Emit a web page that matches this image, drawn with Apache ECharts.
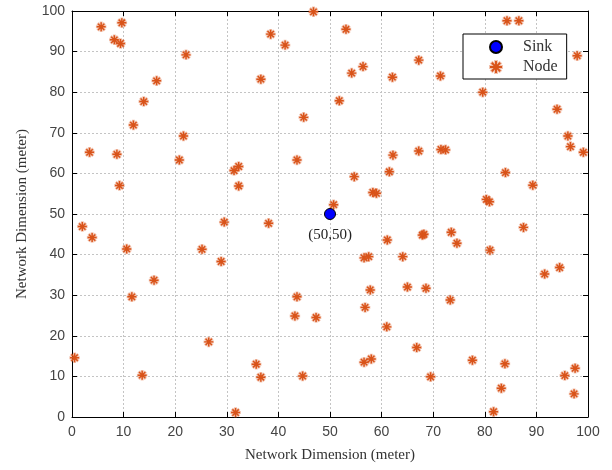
<!DOCTYPE html>
<html>
<head>
<meta charset="utf-8">
<script src="https://cdn.jsdelivr.net/npm/echarts@6/dist/echarts.min.js"></script>
<style>
html, body { margin: 0; padding: 0; background: #fff; }
#main { width: 612px; height: 470px; }
</style>
</head>
<body>
<div id="main"></div>
<script>
var sinkX = [50];
var sinkY = [50];
var nodeX = [5.65, 9.66, 8.2, 9.4, 22.1, 16.4, 13.9, 11.9, 21.6, 3.4, 8.7, 20.8, 9.2, 31.4, 32.3, 32.3, 36.6, 38.5, 41.3, 44.9, 43.6, 46.8,
    53.1, 54.2, 56.4, 51.8, 62.1, 67.2, 71.4, 84.3, 86.6, 97.9, 79.6, 94.0, 96.1, 96.6, 99.1, 62.2, 67.2, 71.5, 72.4, 61.5, 54.7, 58.3, 59.0, 84.0, 89.3, 80.3, 80.9, 50.7,
    2.0, 3.9, 10.6, 29.5, 38.1, 25.2, 28.9, 15.9, 11.6, 43.6, 43.2, 47.3, 26.5, 0.5, 35.7, 36.6, 13.6, 44.7, 31.7,
    61.1, 67.9, 68.2, 73.5, 74.6, 87.5, 81.0, 56.6, 57.5, 64.1, 57.8, 65.0, 68.6, 73.3, 91.6, 94.5, 56.8, 61.0, 66.8, 56.6, 58.0, 69.5, 77.6, 83.9, 83.2, 81.7, 95.5, 97.5, 97.3];
var nodeY = [96.1, 97.1, 92.9, 92.0, 89.2, 82.8, 77.7, 71.9, 69.2, 65.2, 64.7, 63.3, 57.0, 60.7, 61.7, 56.9, 83.2, 94.3, 91.6, 73.8, 63.3, 99.8,
    95.5, 84.7, 86.3, 77.9, 83.7, 87.9, 84.0, 97.6, 97.6, 89.0, 80.0, 75.8, 69.2, 66.6, 65.2, 64.5, 65.5, 65.9, 65.8, 60.4, 59.2, 55.3, 55.1, 60.2, 57.1, 53.6, 53.0, 52.3,
    46.9, 44.2, 41.4, 48.0, 47.7, 41.3, 38.3, 33.7, 29.6, 29.6, 24.9, 24.5, 18.5, 14.6, 13.0, 9.8, 10.3, 10.1, 1.1,
    43.6, 44.8, 45.0, 45.5, 42.8, 46.7, 41.1, 39.2, 39.5, 39.5, 31.3, 32.0, 31.7, 28.8, 35.2, 36.8, 27.0, 22.2, 17.1, 13.5, 14.3, 9.9, 14.0, 13.1, 7.1, 1.3, 10.2, 12.0, 5.7];
var ticks = [0, 10, 20, 30, 40, 50, 60, 70, 80, 90, 100];

// asterisk marker: four thin bars crossing
var star = 'path://M0 4.2L10 4.2L10 5.8L0 5.8Z M4.2 0L5.8 0L5.8 10L4.2 10Z ' +
    'M2.07 0.93L9.07 7.93L7.93 9.07L0.93 2.07Z M7.93 0.93L9.07 2.07L2.07 9.07L0.93 7.93Z';

var nodeData = nodeX.map(function (x, i) { return [x, nodeY[i]]; });
var sinkData = sinkX.map(function (x, i) { return [x, sinkY[i]]; });

var chart = echarts.init(document.getElementById('main'));
var gridLine = { show: true, lineStyle: { color: '#c4c4c4', type: [2, 2], width: 1 } };
var frameLine = { show: true, onZero: false, lineStyle: { color: '#000', width: 1 } };
var tickIn = { show: true, inside: true, length: 5, lineStyle: { color: '#000' } };

var option = {
    animation: false,
    backgroundColor: '#fff',
    grid: { left: 72, right: 24, top: 11, bottom: 53 },
    legend: {
        orient: 'vertical',
        left: 463,
        top: 34,
        backgroundColor: '#fff',
        borderColor: '#000',
        borderWidth: 1,
        borderRadius: 0,
        padding: [5, 9, 4, 26],
        itemGap: 4,
        itemWidth: 12,
        itemHeight: 12,
        textStyle: { fontFamily: 'Liberation Serif', fontSize: 16, color: '#333', padding: [0, 0, 0, 16] },
        data: ['Sink', 'Node']
    },
    xAxis: [{
        type: 'value', min: 0, max: 100, interval: 10,
        name: 'Network Dimension (meter)', nameLocation: 'middle', nameGap: 31,
        nameTextStyle: { fontFamily: 'Liberation Serif', fontSize: 15, color: '#333' },
        axisLine: frameLine, axisTick: tickIn, splitLine: gridLine,
        axisLabel: { fontFamily: 'Liberation Sans', fontSize: 14, color: '#444', margin: 8,
            formatter: function (v) { return ticks.indexOf(v) >= 0 ? String(v) : ''; } }
    }, {
        type: 'value', min: 0, max: 100, interval: 10, position: 'top',
        axisLine: frameLine, axisTick: tickIn, splitLine: { show: false }, axisLabel: { show: false }
    }],
    yAxis: [{
        type: 'value', min: 0, max: 100, interval: 10,
        name: 'Network Dimension (meter)', nameLocation: 'middle', nameGap: 42,
        nameTextStyle: { fontFamily: 'Liberation Serif', fontSize: 15, color: '#333' },
        axisLine: frameLine, axisTick: tickIn, splitLine: gridLine,
        axisLabel: { fontFamily: 'Liberation Sans', fontSize: 14, color: '#444', margin: 7 }
    }, {
        type: 'value', min: 0, max: 100, interval: 10, position: 'right',
        axisLine: frameLine, axisTick: tickIn, splitLine: { show: false }, axisLabel: { show: false }
    }],
    series: [{
        name: 'Sink',
        type: 'scatter',
        data: sinkData,
        symbol: 'circle',
        symbolSize: 11,
        z: 5,
        itemStyle: { color: '#0000ff', borderColor: '#000', borderWidth: 1, opacity: 1 },
        label: {
            show: true, position: 'bottom', distance: 8,
            formatter: function (p) { return '(' + p.value[0] + ',' + p.value[1] + ')'; },
            fontFamily: 'Liberation Serif', fontSize: 15, color: '#222'
        }
    }, {
        name: 'Node',
        type: 'scatter',
        data: nodeData,
        symbol: star,
        symbolSize: 9,
        itemStyle: { color: '#d95319', borderColor: 'rgba(217,83,25,0.35)', borderWidth: 1.5, opacity: 1 }
    }]
};
chart.setOption(option);
window.onresize = chart.resize;
</script>
</body>
</html>
